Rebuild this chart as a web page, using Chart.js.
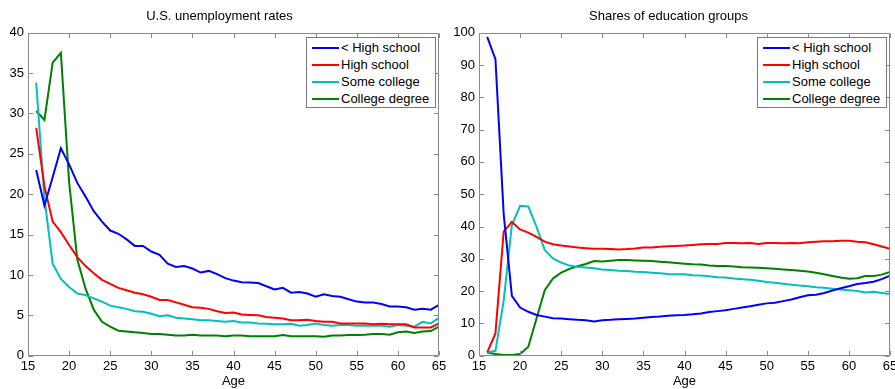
<!DOCTYPE html>
<html>
<head>
<meta charset="utf-8">
<script src="https://cdn.jsdelivr.net/npm/chart.js@4/dist/chart.umd.min.js"></script>
<style>
  html, body { margin: 0; padding: 0; background: #fff; }
  #wrap { position: relative; width: 895px; height: 389px; overflow: hidden; font-family: "Liberation Sans", Arial, sans-serif; }
  canvas { position: absolute; top: 0; }
  .legend { position: absolute; background: #fff; border: 1px solid #7a7a7a; box-sizing: border-box; }
  .legend .row { position: absolute; left: 0; height: 17px; line-height: 17px; font-size: 13px; color: #000; white-space: nowrap; }
  .legend .swatch { position: absolute; height: 2px; width: 27px; }
  .legend .lbl { position: absolute; }
</style>
</head>
<body>
<div id="wrap">
  <canvas id="c1" width="447" height="389" style="left:0px;width:447px;height:389px"></canvas>
  <canvas id="c2" width="448" height="389" style="left:447px;width:448px;height:389px"></canvas>
</div>
<script>
// ---------------- DATA ----------------
const ages = [16,17,18,19,20,21,22,23,24,25,26,27,28,29,30,31,32,33,34,35,36,37,38,39,40,
              41,42,43,44,45,46,47,48,49,50,51,52,53,54,55,56,57,58,59,60,61,62,63,64,65];

const seriesNames = ['< High school', 'High school', 'Some college', 'College degree'];
const seriesColors = ['#0000ff', '#ff0000', '#00bfbf', '#008000'];

const xTickLabels = [15,20,25,30,35,40,45,50,55,60,65];
const leftYTicks = [0,5,10,15,20,25,30,35,40];
const rightYTicks = [0,10,20,30,40,50,60,70,80,90,100];

const leftTitle = 'U.S. unemployment rates';
const rightTitle = 'Shares of education groups';
const xAxisTitle = 'Age';

// Unemployment rates (%)
const unempLessHS = [23.0,18.6,22.1,25.7,23.7,21.4,19.7,17.9,16.6,15.5,15.1,14.4,13.6,13.6,12.9,12.5,11.4,11.0,11.1,10.8,
  10.3,10.5,10.1,9.6,9.3,9.1,9.05,9.0,8.6,8.2,8.4,7.8,7.9,7.7,7.3,7.6,7.4,7.3,7.0,6.7,
  6.6,6.6,6.4,6.1,6.1,6.0,5.7,5.8,5.7,6.3];
const unempHS = [28.2,21.0,16.6,15.3,13.7,12.2,11.1,10.2,9.4,8.9,8.4,8.1,7.8,7.6,7.3,6.9,6.9,6.6,6.3,6.0,
  5.95,5.8,5.5,5.3,5.35,5.1,5.05,5.0,4.8,4.7,4.6,4.4,4.4,4.45,4.3,4.2,4.2,4.0,4.0,4.0,
  4.0,3.9,3.95,3.9,3.9,3.9,3.5,3.5,3.5,4.0];
const unempSomeCol = [33.8,19.5,11.4,9.5,8.5,7.7,7.5,7.1,6.7,6.2,6.0,5.8,5.5,5.45,5.2,4.9,5.0,4.7,4.6,4.5,
  4.4,4.4,4.3,4.2,4.3,4.1,4.1,4.0,3.95,3.9,3.9,3.95,3.7,3.8,4.0,3.8,3.7,3.8,3.8,3.7,
  3.75,3.7,3.7,3.6,3.8,3.7,3.6,4.2,4.0,4.7];
const unempCollege = [30.3,29.2,36.3,37.5,21.5,11.9,8.3,5.7,4.2,3.6,3.1,3.0,2.9,2.8,2.7,2.7,2.6,2.5,2.5,2.6,
  2.5,2.5,2.5,2.4,2.5,2.5,2.4,2.4,2.4,2.4,2.55,2.4,2.4,2.4,2.4,2.35,2.5,2.5,2.55,2.55,
  2.6,2.7,2.7,2.6,2.9,3.0,2.8,3.0,3.05,3.6];

// Shares of education groups (%)
const shareLessHS = [98.7,91.8,44.0,18.5,14.9,13.6,12.6,12.1,11.6,11.5,11.3,11.1,11.0,10.6,11.0,11.1,11.3,11.4,11.5,11.75,
  12.0,12.1,12.4,12.5,12.6,12.8,13.1,13.5,13.8,14.1,14.5,14.9,15.3,15.8,16.2,16.4,16.9,17.4,18.1,18.7,
  18.9,19.4,20.2,20.9,21.5,22.2,22.5,22.9,23.7,24.8];
const shareHS = [1.0,6.9,38.4,41.4,39.1,38.1,36.8,35.3,34.5,34.1,33.8,33.5,33.3,33.1,33.1,33.0,32.9,33.0,33.2,33.5,
  33.5,33.7,33.9,34.0,34.1,34.3,34.5,34.6,34.6,34.9,34.9,34.8,34.9,34.6,34.9,34.9,34.8,34.9,34.8,35.1,
  35.3,35.4,35.4,35.6,35.6,35.3,35.1,34.5,33.8,33.1];
const shareSomeCol = [1.0,1.5,17.0,40.4,46.4,46.2,39.9,32.7,30.1,28.8,27.9,27.5,27.3,27.1,26.7,26.5,26.3,26.2,26.0,25.9,
  25.7,25.5,25.3,25.2,25.2,24.9,24.8,24.6,24.3,24.2,23.9,23.7,23.5,23.2,22.8,22.6,22.3,22.0,21.7,21.5,
  21.2,21.0,20.7,20.5,20.3,20.0,19.6,19.8,19.4,19.1];
const shareCollege = [1.0,0.5,0.2,0.2,0.5,2.8,11.5,20.3,23.9,25.7,26.9,27.7,28.4,29.3,29.2,29.4,29.6,29.6,29.5,29.4,
  29.3,29.1,28.9,28.7,28.5,28.3,28.2,27.9,27.8,27.8,27.6,27.4,27.3,27.2,27.1,26.9,26.7,26.5,26.3,26.1,
  25.7,25.2,24.7,24.2,23.8,24.0,24.7,24.7,25.1,25.9];

// ---------------- RENDERING ----------------
const FONT = '"Liberation Sans", Arial, Helvetica, sans-serif';
const BOX = '#8a8a8a';

function toPoints(vals) { return ages.map((a, i) => ({ x: a, y: vals[i] })); }

const boxPlugin = {
  id: 'matlabBox',
  afterDatasetsDraw(chart) {
    const { ctx, chartArea: a, scales } = chart;
    const L = Math.round(a.left) + 0.5, R = Math.round(a.right) - 0.5;
    const T = Math.round(a.top) + 0.5, B = Math.round(a.bottom) - 0.5;
    ctx.save();
    ctx.strokeStyle = BOX;
    ctx.lineWidth = 1;
    ctx.beginPath();
    ctx.rect(L, T, R - L, B - T);
    const tl = 4.5;
    scales.x.ticks.forEach(t => {
      const px = Math.round(scales.x.getPixelForValue(t.value)) + 0.5;
      ctx.moveTo(px, B); ctx.lineTo(px, B - tl);
      ctx.moveTo(px, T); ctx.lineTo(px, T + tl);
    });
    scales.y.ticks.forEach(t => {
      const py = Math.round(scales.y.getPixelForValue(t.value)) + 0.5;
      ctx.moveTo(L, py); ctx.lineTo(L + tl, py);
      ctx.moveTo(R, py); ctx.lineTo(R - tl, py);
    });
    ctx.stroke();
    ctx.restore();
  }
};

function makeChart(id, title, series, yTicks, yMax, yStep, yAxisWidth, padRight) {
  const datasets = series.map((vals, i) => ({
    label: seriesNames[i],
    data: toPoints(vals),
    borderColor: seriesColors[i],
    backgroundColor: seriesColors[i],
    borderWidth: 2,
    pointRadius: 0,
    tension: 0,
    fill: false
  }));
  return new Chart(document.getElementById(id), {
    type: 'line',
    data: { datasets },
    plugins: [boxPlugin],
    options: {
      responsive: false,
      animation: false,
      devicePixelRatio: 1,
      layout: { padding: { left: 0, right: padRight, top: 0, bottom: 0 } },
      plugins: {
        legend: { display: false },
        tooltip: { enabled: false },
        title: {
          display: true,
          text: title,
          color: '#000',
          font: { family: FONT, size: 13, weight: 'normal', lineHeight: 1.2 },
          padding: { top: 8.9, bottom: 8.2 }
        }
      },
      scales: {
        x: {
          type: 'linear',
          min: xTickLabels[0],
          max: xTickLabels[xTickLabels.length - 1],
          afterBuildTicks: s => { s.ticks = xTickLabels.map(v => ({ value: v })); },
          ticks: {
            autoSkip: false, maxRotation: 0, padding: 3,
            color: '#000', font: { family: FONT, size: 13 },
            callback: v => String(v)
          },
          grid: { display: false, drawTicks: false },
          border: { display: false },
          title: {
            display: true, text: xAxisTitle, color: '#000',
            font: { family: FONT, size: 13, lineHeight: 1.2 },
            padding: { top: 0, bottom: 0.2 }
          },
          afterFit: s => { s.height = 33.3; s.paddingLeft = 0; s.paddingRight = 0; }
        },
        y: {
          type: 'linear',
          min: 0, max: yMax,
          afterBuildTicks: s => { s.ticks = yTicks.map(v => ({ value: v })); },
          ticks: {
            autoSkip: false, padding: 4,
            color: '#000', font: { family: FONT, size: 13 },
            callback: v => String(v)
          },
          grid: { display: false, drawTicks: false },
          border: { display: false },
          afterFit: s => { s.width = yAxisWidth; s.paddingTop = 0; s.paddingBottom = 0; }
        }
      }
    }
  });
}

makeChart('c1', leftTitle, [unempLessHS, unempHS, unempSomeCol, unempCollege], leftYTicks, 40, 5, 28, 8);
makeChart('c2', rightTitle, [shareLessHS, shareHS, shareSomeCol, shareCollege], rightYTicks, 100, 10, 32, 5);

// HTML legends inside each plot
function makeLegend(left, top) {
  const box = document.createElement('div');
  box.className = 'legend';
  box.style.left = left + 'px';
  box.style.top = top + 'px';
  box.style.width = '130px';
  box.style.height = '71px';
  seriesNames.forEach((name, i) => {
    const row = document.createElement('div');
    row.className = 'row';
    row.style.top = (1 + i * 17) + 'px';
    row.style.width = '128px';
    const sw = document.createElement('div');
    sw.className = 'swatch';
    sw.style.left = '5px';
    sw.style.top = '7.5px';
    sw.style.background = seriesColors[i];
    const lb = document.createElement('span');
    lb.className = 'lbl';
    lb.style.left = '34px';
    lb.textContent = name;
    row.appendChild(sw); row.appendChild(lb);
    box.appendChild(row);
  });
  document.getElementById('wrap').appendChild(box);
}
makeLegend(306, 37);
makeLegend(757, 37);
</script>
</body>
</html>
